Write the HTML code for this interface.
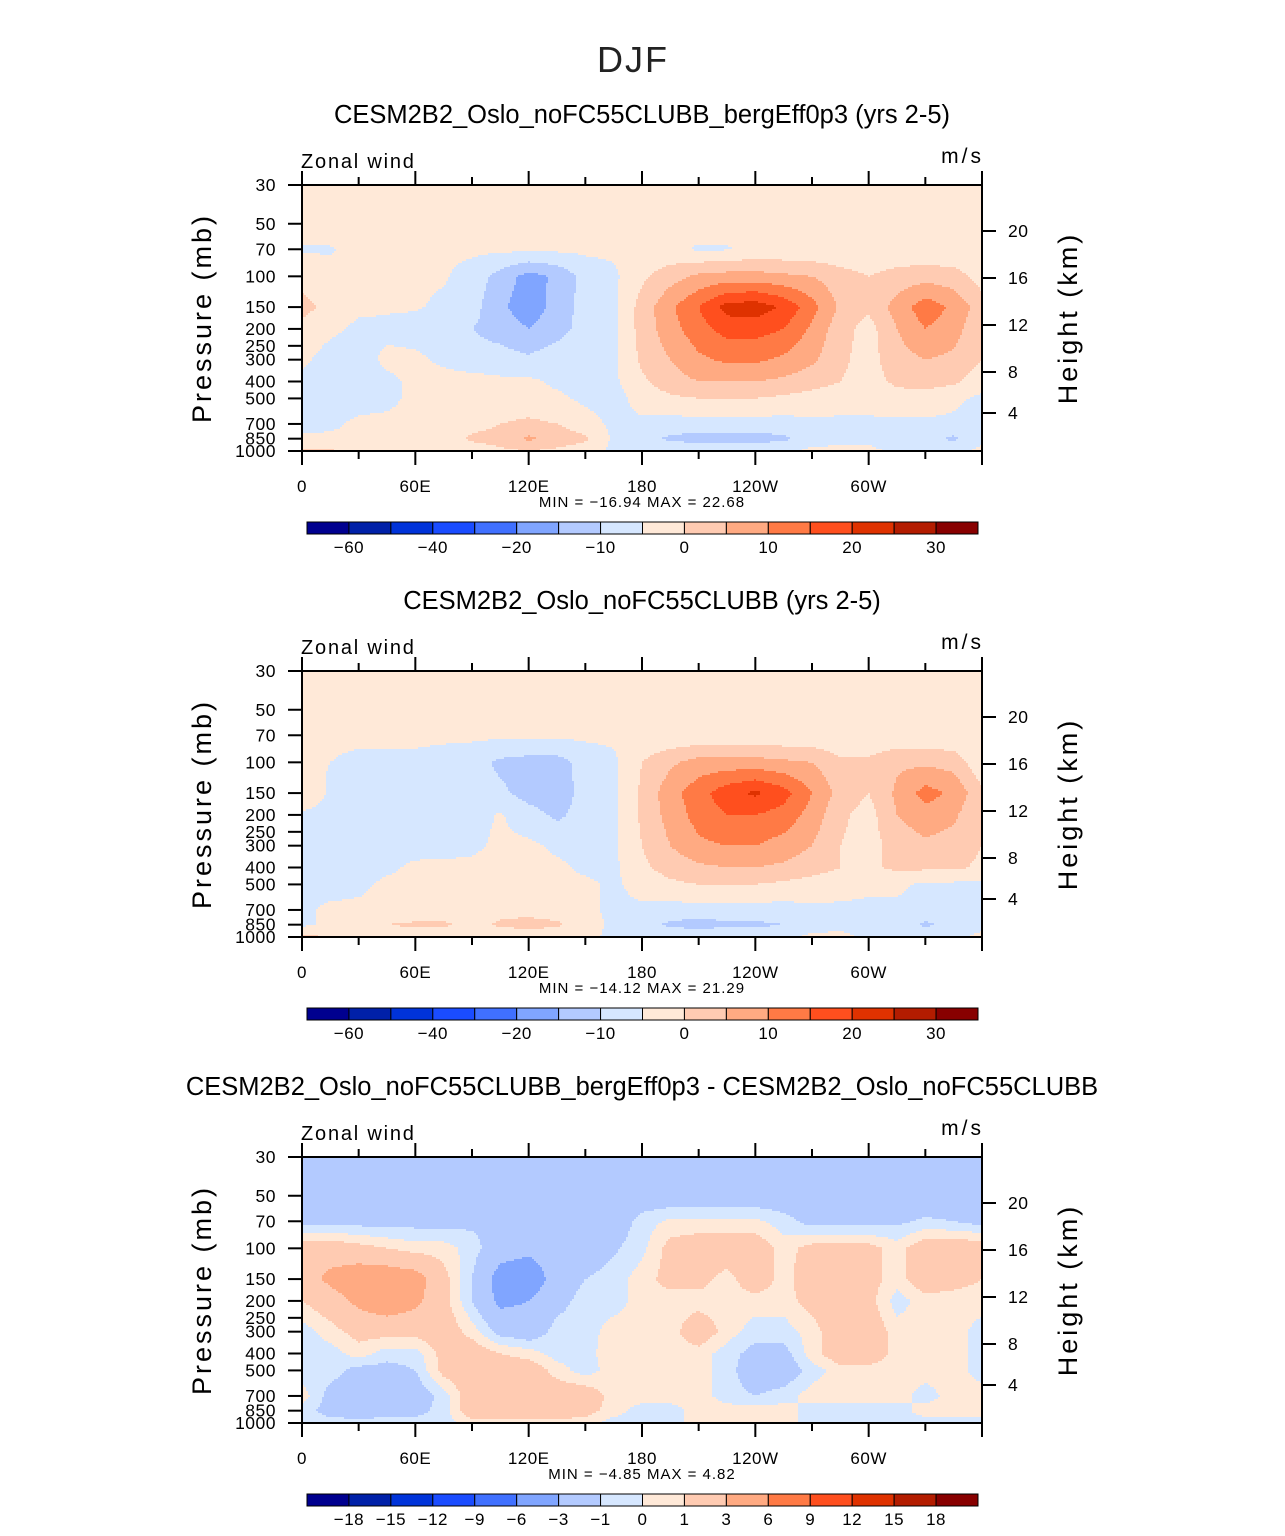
<!DOCTYPE html>
<html><head><meta charset="utf-8">
<style>
body{margin:0;background:#fff;width:1285px;height:1531px;overflow:hidden;font-family:"Liberation Sans",sans-serif}
svg text{font-family:"Liberation Sans",sans-serif}
</style></head>
<body>
<svg id="fig" width="1285" height="1531" xmlns="http://www.w3.org/2000/svg">
<text x="633" y="72" text-anchor="middle" font-size="36" font-weight="300" fill="#222" style="letter-spacing:2px">DJF</text>
</svg>
<script>
// ---------- data ----------
const lons = [0,15,30,45,60,75,90,105,120,135,150,165,180,195,210,225,240,255,270,285,300,315,330,345,360];
const levels = [30,50,70,100,150,200,300,400,500,700,850,1000];
const titles = ["CESM2B2_Oslo_noFC55CLUBB_bergEff0p3 (yrs 2-5)","CESM2B2_Oslo_noFC55CLUBB (yrs 2-5)","CESM2B2_Oslo_noFC55CLUBB_bergEff0p3 - CESM2B2_Oslo_noFC55CLUBB"];
const minMaxText = ["MIN =  \u221216.94   MAX =   22.68","MIN =  \u221214.12   MAX =   21.29","MIN =    \u22124.85   MAX =    4.82"];
const xTickLabels = ["0","60E","120E","180","120W","60W"];
const xTickLons = [0,60,120,180,240,300];
const pTicks = [30,50,70,100,150,200,250,300,400,500,700,850,1000];
const hTickLabels = ["20","16","12","8","4"];
const hTickY = [46,93,140,187,228];
const absContours = [-50,-40,-30,-20,-15,-10,-5,0,5,10,15,20,25,30,35];
const absLabels = ["\u221260","\u221240","\u221220","\u221210","0","10","20","30"];
const absLabelIdx = [0,2,4,6,8,10,12,14];
const diffContours = [-18,-15,-12,-9,-6,-3,-1,0,1,3,6,9,12,15,18];
const diffLabels = ["\u221218","\u221215","\u221212","\u22129","\u22126","\u22123","\u22121","0","1","3","6","9","12","15","18"];
const palette = ["#00008f","#0020a8","#0033d9","#1a4cff","#4070ff","#80a5ff","#b3caff","#d6e7ff","#ffe9d8","#ffcbb2","#ffaa82","#ff7a45","#ff4f1e","#df3200","#b31c00","#880000"];

const field1 = [
[2,2,2,2,2,2,2,2,2,2,2,2,2,2,2,2,2,2,2,2,2,2,2,2,2],
[2,2,2,2,2,2,2,2,2,2,2,2,2,2,2,2,2,2,2,2,2,2,2,2,2],
[-0.5,-0.3,1,1,1,1,1,1,1,1,1,1,1,1,-0.5,-0.3,1,1,1,1,1,1,1,1,1],
[3,1,1,1,1,0.5,-2,-7,-12,-9,-3,-1,4,8,11,12,12,11,10,7,5,7,8,7,3],
[7,3,1,0.5,0.5,-1,-3,-9,-13,-8,-3,-1,7,14,20,27,28,24,17,9,6,12,18,14,7],
[3,1,-1,-1,-2,-3,-5,-7,-10,-7,-3,-1,7,13,18,22,22,20,14,7,3,10,15,12,6],
[1,-2,-2,1,1,-1,-3,-3,-4,-2,-2,-1,6,10,14,16,16,14,11,6,3,8,10,9,5],
[-1,-2,-2,-1,1,2,2,1,1,-1,-2,-1,4,8,10,10,10,9,7,5,3,6,7,6,2],
[-2,-2,-2,-1,1,1,2,2,2,1,-1,-2,2,4,5,5,5,4,3,2,2,3,3,1,-1],
[-2,-1,1,1,1,2,3,5,6,5,2,-1,-1,-2,-2,-2,-2,-2,-1,-1,-1,-1,-1,-1,-2],
[1,1,1,1,1,2,6,7,11,8,6,-1,-3,-6,-7,-7,-7,-6,-2,-1,-1,-2,-3,-6,-1],
[6,6,2,1,1,1,2,4,5,4,2,-1,-1,-1,-1,-1,-1,-1,1,1,1,-1,-1,-1,1]
];
const field2 = [
[2,2,2,2,2,2,2,2,2,2,2,2,2,2,2,2,2,2,2,2,2,2,2,2,2],
[2,2,2,2,2,2,2,2,2,2,2,2,2,2,2,2,2,2,2,2,2,2,2,2,2],
[1,1,1,1,1,1,1,1,1,1,1,1,1,1,1,1,1,1,1,1,1,1,1,1,1],
[1,0,-1,-1,-1,-2,-3,-6,-7,-7,-3,-1,5,9,12,12,12,11,10,6,6,9,9,8,1],
[5,-1,-2,-2,-2,-2,-3,-4,-7,-8,-3,-1,6,13,18,23,26,22,15,8,5,11,17,14,6],
[-1,-2,-2,-2,-2,-2,-2,0.5,-3,-6,-3,-1,6,12,17,20,20,18,13,6,3,10,13,11,5],
[-1,-2,-2,-2,-2,-1.5,-1,1,1,-1,-2,-1,5,10,14,15,15,13,10,5,3,7,9,8,5],
[-1,-2,-2,-1,1,1,1,2,2,1,-1,-1,4,7,9,10,10,9,7,5,4,6,6,6,4],
[-1,-2,-1,1,1,1,1,1,1,1,1,-1,2,4,5,5,5,4,3,2,1,1,-1,-1,-1],
[-1,1,1,1,1,2,2,3,3,2,1,-1,-1,-2,-2,-2,-2,-2,-1,-1,-1,-1,-2,-1,-1],
[-1,1,2,5,6,6,3,6,7,6,2,-1,-3,-6,-7,-6,-6,-5,-2,-1,-1,-2,-6,-3,-1],
[6,5,2,1,1,1,1,1,1,1,1,-1,-1,-1,-1,-1,-1,-1,1,1,-1,-1,-1,-1,1]
];
const field3 = [
[-2,-2,-2,-2,-2,-2,-2,-2,-2,-2,-2,-2,-2,-2,-2,-2,-2,-2,-2,-2,-2,-2,-2,-2,-2],
[-2,-2,-2,-2,-2,-2,-2,-2,-2,-2,-2,-2,-2,-2,-2,-2,-2,-2,-2,-2,-2,-2,-2,-2,-2],
[-1.5,-1.5,-1.5,-1.6,-1.5,-1.5,-1.3,-1,-1.5,-2,-2,-2,-0.5,0.2,0.2,0.2,0.2,-0.5,-1.5,-1.5,-1.5,-1.3,-0.8,-1,-1.5],
[2,2,1.5,1,0.5,0.5,-0.5,-2,-2.5,-2,-2,-1.2,-0.3,1.5,2,2,2,0.5,1.5,1.5,1.5,0.5,2,2,2],
[2,3.5,4.5,4.5,4,1.5,-1,-4,-4.5,-2,-1,-0.5,0.5,1.5,1.5,0.5,2,0.5,2,2,1.5,0.5,2,1.5,1],
[1,2,3.5,4.5,3.5,1.5,-1,-3.5,-3,-1.5,-0.5,-0.5,0.5,0.5,0.5,0.5,0.5,0.5,1.5,2,1.5,-0.5,0.5,0.5,0.5],
[-0.5,0.5,1.5,1.5,1.5,2,0.5,-1.5,-2,-0.5,-0.5,0.5,0.5,0.5,2,0.5,-0.5,-0.5,0.5,2,2,0.5,0.5,0.5,-0.5],
[-0.5,-0.5,0.5,-0.5,-0.5,1.5,2,1,0.5,-0.5,-0.3,0.5,0.5,0.5,0.5,-0.5,-1.5,-1.5,0.5,2,2,0.5,0.5,0.5,-0.5],
[-0.5,-0.5,-1.5,-1.5,-1,1.5,2,2,2,0.5,-0.5,0.5,0.5,0.5,0.5,-0.5,-2,-2,-0.5,0.5,0.5,0.5,0.5,0.5,-0.5],
[0.5,-1.5,-2,-2,-2,-0.5,2,2,2,2,2,0.5,0.5,0.5,0.5,-0.5,-1,-0.5,0.5,0.5,0.5,0.5,-0.5,0.5,0.5],
[-0.5,-1.5,-2,-1.5,-1.5,-0.5,2,2,2,2,1.5,0.5,-0.5,-0.5,0.5,0.5,0.5,0.5,-0.5,-0.5,-0.5,-0.5,0.5,0.5,0.5],
[-0.5,-0.5,-0.5,-0.5,-0.5,-0.5,0.5,0.5,0.5,0.5,0.5,-0.5,-0.5,-0.5,0.5,0.5,0.5,0.5,-0.5,-0.5,-0.5,-0.5,-0.5,-0.5,-0.5]
];

// ---------- drawing ----------
const NS = "http://www.w3.org/2000/svg";
const fig = document.getElementById('fig');
const X0 = 302, W = 680, H = 266;
const panelTops = [185, 671, 1157];
const fields = [field1, field2, field3];
const contourSets = [absContours, absContours, diffContours];
function xOf(lon){ return X0 + lon / 360 * W; }
function tOf(p){ return Math.log(p / 30) / Math.log(1000 / 30); }
function mk(tag, attrs, parent){
  const e = document.createElementNS(NS, tag);
  for (const k in attrs) e.setAttribute(k, attrs[k]);
  (parent || fig).appendChild(e);
  return e;
}
function txt(s, x, y, size, anchor, parent, ls){
  const t = mk('text', {x: x, y: y, 'font-size': size, 'text-anchor': anchor || 'start', fill: '#000'}, parent);
  if (ls) t.setAttribute('letter-spacing', ls);
  t.textContent = s;
  return t;
}
const rowT = levels.map(tOf);
function sample(field, lon, t){
  let j = Math.min(Math.floor(lon / 15), lons.length - 2);
  const fx = (lon - lons[j]) / 15;
  let i = 0;
  while (i < rowT.length - 2 && t > rowT[i + 1]) i++;
  const fy = Math.max(0, Math.min(1, (t - rowT[i]) / (rowT[i + 1] - rowT[i])));
  const a = field[i][j], b = field[i][j + 1], c = field[i + 1][j], d = field[i + 1][j + 1];
  return (a * (1 - fx) + b * fx) * (1 - fy) + (c * (1 - fx) + d * fx) * fy;
}
function colorIdx(v, cont){
  let k = 0;
  while (k < cont.length && v >= cont[k]) k++;
  return k;
}

panelTops.forEach((top, pi) => {
  const g = mk('g', {});
  
  
  const title = txt(titles[pi], 642, top - 62, 25.5, 'middle', g);
  
  
  const field = fields[pi], cont = contourSets[pi];
  const cg = mk('g', {'shape-rendering': 'crispEdges'}, g);
  
  
  const step = 2;
  for (let py = 0; py < H; py += step) {
    const t = (py + step / 2) / H;
    let runStart = 0, runC = -1;
    for (let px = 0; px <= W; px += step) {
      let c = -1;
      if (px < W) c = colorIdx(sample(field, (px + step / 2) / W * 360, t), cont);
      if (c !== runC) {
        if (runC >= 0) {
          const r = mk('rect', {x: X0 + runStart, y: top + py, width: px - runStart, height: step, fill: palette[runC]}, cg);
          
          
        }
        runStart = px; runC = c;
      }
    }
  }
  const fr = mk('rect', {x: X0, y: top, width: W, height: H, fill: 'none', stroke: '#000', 'stroke-width': 2}, g);
  
  
  for (let lon = 0; lon <= 360; lon += 30) {
    const major = lon % 60 === 0;
    const x = xOf(lon), len = major ? 14 : 8;
    mk('line', {x1: x, x2: x, y1: top + H, y2: top + H + len, stroke: '#000', 'stroke-width': 2}, g);
    mk('line', {x1: x, x2: x, y1: top, y2: top - len, stroke: '#000', 'stroke-width': 2}, g);
  }
  xTickLabels.forEach((s, k) => {
    const l = txt(s, xOf(xTickLons[k]), top + H + 41, 17, 'middle', g, 0.5);
    
    
  });
  pTicks.forEach(p => {
    const y = top + tOf(p) * H;
    mk('line', {x1: X0 - 14, x2: X0, y1: y, y2: y, stroke: '#000', 'stroke-width': 2}, g);
    const l = txt(String(p), 276, y + 6, 17.5, 'end', g, 0.5);
    
    
  });
  hTickLabels.forEach((s, k) => {
    const y = top + hTickY[k];
    mk('line', {x1: X0 + W, x2: X0 + W + 14, y1: y, y2: y, stroke: '#000', 'stroke-width': 2}, g);
    const l = txt(s, 1008, y + 6, 17.5, 'start', g, 0.5);
    
    
  });
  const zl = txt('Zonal  wind', 301, top - 17, 20, 'start', g, 1.8);
  
  
  const ul = txt('m/s', 984, top - 22, 21, 'end', g, 3);
  
  
  const yl = txt('Pressure  (mb)', 0, 0, 27, 'middle', g, 3);
  yl.setAttribute('transform', 'translate(211,' + (top + 133) + ') rotate(-90)');
  
  
  const hl = txt('Height  (km)', 0, 0, 27, 'middle', g, 3);
  hl.setAttribute('transform', 'translate(1077,' + (top + 133) + ') rotate(-90)');
  
  
  const mm = txt(minMaxText[pi], 642, top + H + 56, 15, 'middle', g, 1);
  
  
  const cbY = top + 337, cbX = 307, cbW = 671, bw = cbW / 16;
  const cb = mk('g', {}, g);
  
  
  palette.forEach((c, k) => {
    const r = mk('rect', {x: cbX + k * bw, y: cbY, width: bw, height: 12, fill: c, stroke: '#000', 'stroke-width': 1}, cb);
    
    
  });
  if (pi < 2) {
    absLabels.forEach((s, k) => {
      const l = txt(s, cbX + (absLabelIdx[k] + 1) * bw, cbY + 31, 17, 'middle', cb, 0.5);
      
      
    });
  } else {
    diffLabels.forEach((s, k) => {
      const l = txt(s, cbX + (k + 1) * bw, cbY + 31, 17, 'middle', cb, 0.5);
      
      
    });
  }
});
</script>
</body></html>
